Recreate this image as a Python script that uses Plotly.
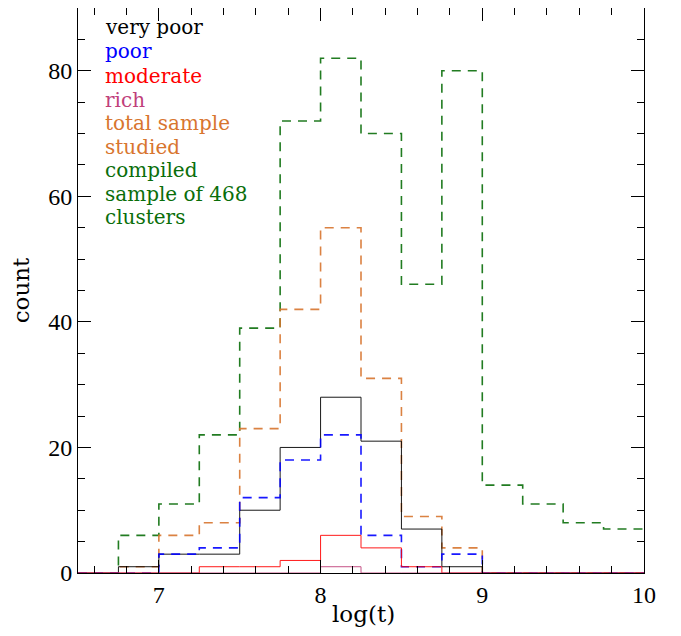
import plotly.graph_objects as go

bin_edges = [6.5, 6.75, 7.0, 7.25, 7.5, 7.75, 8.0, 8.25, 8.5, 8.75, 9.0, 9.25, 9.5, 9.75, 10.0]

very_poor = [0, 1, 3, 3, 10, 20, 28, 21, 7, 1, 0, 0, 0, 0]
poor      = [0, 0, 3, 4, 12, 18, 22, 6, 1, 3, 0, 0, 0, 0]
moderate  = [0, 0, 0, 1, 1, 2, 6, 4, 1, 0, 0, 0, 0, 0]
rich      = [0, 0, 0, 0, 0, 0, 1, 0, 0, 0, 0, 0, 0, 0]
total     = [0, 1, 6, 8, 23, 42, 55, 31, 9, 4, 0, 0, 0, 0]
compiled  = [0, 6, 11, 22, 39, 72, 82, 70, 46, 80, 14, 11, 8, 7]

x_ticks = [7, 8, 9, 10]
y_ticks = [0, 20, 40, 60, 80]

series = [
    ("compiled sample of 468 clusters", compiled, "#0a6e0a", "9px,7px", 1.6),
    ("total sample studied", total, "#d8752e", "9px,7px", 1.6),
    ("very poor", very_poor, "#000000", "solid", 1.0),
    ("poor", poor, "#0000ff", "9px,7px", 1.6),
    ("moderate", moderate, "#ff0000", "solid", 1.0),
    ("rich", rich, "#c0407a", "solid", 1.0),
]

fig = go.Figure()
for name, vals, color, dash, w in series:
    fig.add_trace(go.Scatter(
        x=bin_edges, y=vals + [vals[-1]],
        mode="lines", line=dict(shape="hv", color=color, dash=dash, width=w),
        name=name, showlegend=False, opacity=0.9,
    ))

# page body has an 8px margin; figure coordinates are page - 8
OFF = 8
plot_left, plot_right = 78 - OFF, 644 - OFF
plot_top, plot_bottom = 8 - OFF, 573 - OFF
W, H = 665, 620

legend_font = "DejaVu Serif"
legend_lines = [
    ("very poor", "#000000", 27),
    ("poor", "#0000ff", 51),
    ("moderate", "#ff0000", 76),
    ("rich", "#c0407a", 100),
    ("total sample", "#d8752e", 123),
    ("studied", "#d8752e", 146.5),
    ("compiled", "#0a6e0a", 170),
    ("sample of 468", "#0a6e0a", 193.5),
    ("clusters", "#0a6e0a", 217),
]
for text, color, ypx in legend_lines:
    fig.add_annotation(
        text=text, xref="paper", yref="paper",
        x=(103 - 78) / (644 - 78), y=(573 - ypx) / (573 - 8),
        xanchor="left", yanchor="middle", showarrow=False,
        font=dict(family=legend_font, size=20, color=color),
    )

# x-axis title placed as annotation below the axis
fig.add_annotation(
    text="log(t)", xref="paper", yref="paper", x=0.505, y=0,
    xanchor="center", yanchor="middle", yshift=-41, showarrow=False,
    font=dict(family="DejaVu Serif", size=23, color="black"),
)

axis_common = dict(
    showline=True, linecolor="black", linewidth=1, mirror="allticks",
    ticks="inside", ticklen=13, tickcolor="black", tickwidth=1,
    showgrid=False, zeroline=False, automargin=False,
    tickfont=dict(family="Liberation Serif", size=24, color="black"),
    title_font=dict(family="DejaVu Serif", size=23, color="black"),
)

fig.update_xaxes(
    range=[6.5, 10], tickvals=x_ticks, ticktext=[str(v) for v in x_ticks],
    minor=dict(ticks="inside", ticklen=7, dtick=0.2, tick0=7, tickcolor="black", showgrid=False),
    **axis_common,
)
fig.update_yaxes(
    range=[0, 90], tickvals=y_ticks, ticktext=[str(v) for v in y_ticks],
    minor=dict(ticks="inside", ticklen=7, dtick=5, tick0=0, tickcolor="black", showgrid=False),
    title_text="count", title_standoff=12, **axis_common,
)

fig.update_layout(
    width=W, height=H,
    margin=dict(l=plot_left, r=W - plot_right, t=plot_top, b=H - plot_bottom),
    plot_bgcolor="white", paper_bgcolor="white",
)

fig.write_html("out.html")
